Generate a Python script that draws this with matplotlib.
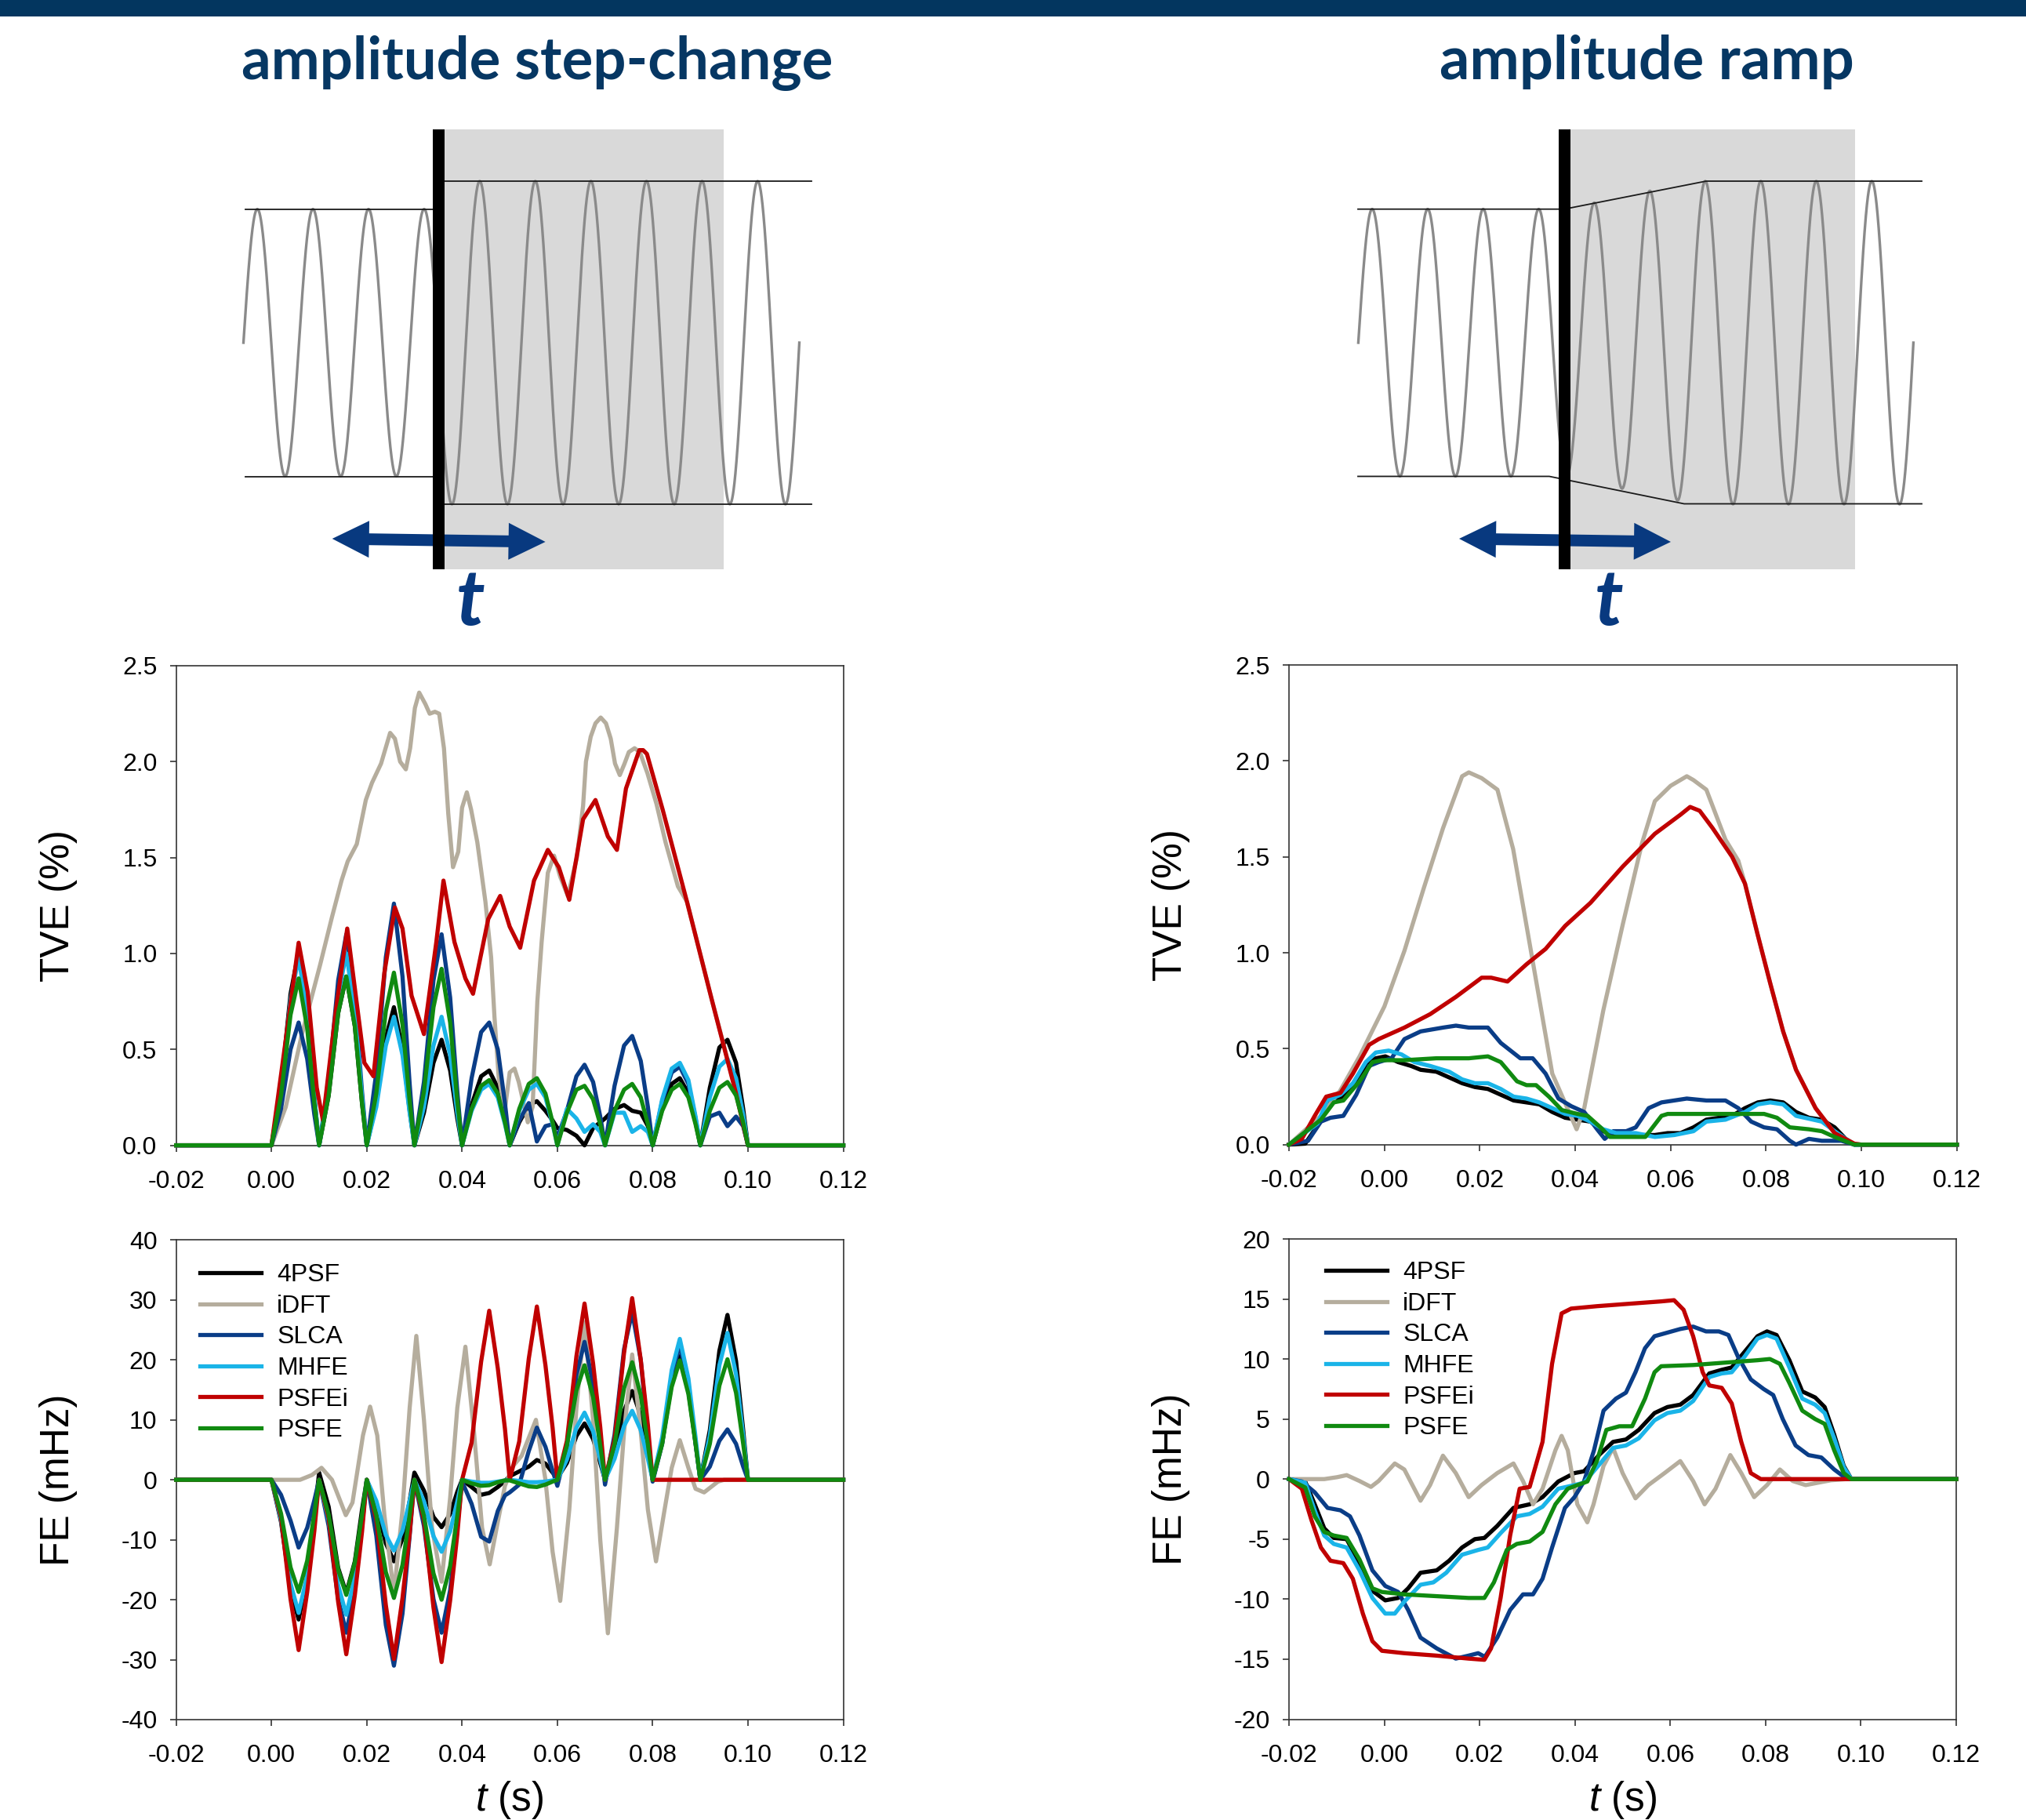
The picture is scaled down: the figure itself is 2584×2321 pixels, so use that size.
import numpy as np
import matplotlib
matplotlib.use("Agg")
import matplotlib.pyplot as plt
from matplotlib.patches import Rectangle, Polygon

W, H = 2584, 2321
DPI = 100

plt.rcParams["font.family"] = ["Liberation Sans", "DejaVu Sans"]
plt.rcParams["mathtext.fontset"] = "custom"
plt.rcParams["mathtext.it"] = "Liberation Sans:italic"
plt.rcParams["mathtext.rm"] = "Liberation Sans"

# ---------------------------------------------------------------- data
SERIES = ["4PSF", "iDFT", "SLCA", "MHFE", "PSFEi", "PSFE"]
COLORS = {
    "4PSF": "#000000",
    "iDFT": "#b5ad9d",
    "SLCA": "#0a3d87",
    "MHFE": "#1ab4e8",
    "PSFEi": "#c00000",
    "PSFE": "#108a10",
}

T_TICKS = [-0.02, 0.0, 0.02, 0.04, 0.06, 0.08, 0.10, 0.12]
TVE_TICKS = [0.0, 0.5, 1.0, 1.5, 2.0, 2.5]
FE_STEP_TICKS = [-40, -30, -20, -10, 0, 10, 20, 30, 40]
FE_RAMP_TICKS = [-20, -15, -10, -5, 0, 5, 10, 15, 20]

# time grid used by the lobe-shaped step-change series (6 samples per 10 ms)
T_GRID = [-0.02,
          0.0, 0.002, 0.004, 0.0057, 0.0075, 0.009,
          0.01, 0.012, 0.014, 0.0157, 0.0175, 0.019,
          0.02, 0.022, 0.024, 0.0257, 0.0275, 0.029,
          0.03, 0.032, 0.034, 0.0357, 0.0375, 0.039,
          0.04, 0.042, 0.044, 0.0457, 0.0475, 0.049,
          0.05, 0.052, 0.054, 0.0557, 0.0575, 0.059,
          0.06, 0.062, 0.064, 0.0657, 0.0675, 0.069,
          0.07, 0.072, 0.074, 0.0757, 0.0775, 0.079,
          0.08, 0.082, 0.084, 0.0857, 0.0875, 0.089,
          0.09, 0.092, 0.094, 0.0957, 0.0975, 0.099,
          0.1, 0.12]

# --- TVE (%), amplitude step-change
tve_step_4psf = [0.0,
                 0.0, 0.30, 0.79, 1.01, 0.71, 0.25,
                 0.0, 0.26, 0.69, 0.88, 0.62, 0.22,
                 0.0, 0.22, 0.56, 0.72, 0.50, 0.18,
                 0.0, 0.17, 0.43, 0.55, 0.39, 0.14,
                 0.0, 0.21, 0.36, 0.39, 0.30, 0.14,
                 0.0, 0.12, 0.21, 0.23, 0.18, 0.13,
                 0.09, 0.08, 0.05, 0.00, 0.09, 0.12,
                 0.14, 0.19, 0.21, 0.18, 0.17, 0.10,
                 0.0, 0.19, 0.32, 0.35, 0.27, 0.12,
                 0.0, 0.30, 0.51, 0.55, 0.43, 0.19,
                 0.0, 0.0]
tve_step_slca = [0.0,
                 0.0, 0.19, 0.50, 0.64, 0.45, 0.16,
                 0.0, 0.33, 0.86, 1.10, 0.77, 0.28,
                 0.0, 0.38, 0.98, 1.26, 0.88, 0.32,
                 0.0, 0.33, 0.86, 1.10, 0.77, 0.28,
                 0.0, 0.35, 0.59, 0.64, 0.50, 0.22,
                 0.0, 0.13, 0.22, 0.02, 0.10, 0.11,
                 0.04, 0.18, 0.36, 0.42, 0.33, 0.15,
                 0.0, 0.31, 0.52, 0.57, 0.44, 0.20,
                 0.0, 0.23, 0.38, 0.41, 0.32, 0.14,
                 0.0, 0.15, 0.17, 0.10, 0.15, 0.10,
                 0.0, 0.0]
tve_step_mhfe = [0.0,
                 0.0, 0.29, 0.76, 0.98, 0.69, 0.25,
                 0.0, 0.30, 0.78, 1.00, 0.70, 0.25,
                 0.0, 0.20, 0.52, 0.67, 0.47, 0.17,
                 0.0, 0.20, 0.52, 0.67, 0.47, 0.17,
                 0.0, 0.18, 0.29, 0.32, 0.25, 0.11,
                 0.0, 0.18, 0.29, 0.32, 0.25, 0.11,
                 0.0, 0.19, 0.14, 0.07, 0.11, 0.07,
                 0.0, 0.17, 0.17, 0.07, 0.10, 0.07,
                 0.0, 0.24, 0.40, 0.43, 0.34, 0.15,
                 0.0, 0.25, 0.41, 0.45, 0.35, 0.16,
                 0.0, 0.0]
tve_step_psfe = [0.0,
                 0.0, 0.26, 0.68, 0.87, 0.61, 0.22,
                 0.0, 0.26, 0.69, 0.88, 0.62, 0.22,
                 0.0, 0.27, 0.70, 0.90, 0.63, 0.23,
                 0.0, 0.28, 0.72, 0.92, 0.64, 0.23,
                 0.0, 0.19, 0.31, 0.34, 0.27, 0.12,
                 0.0, 0.19, 0.32, 0.35, 0.27, 0.12,
                 0.0, 0.17, 0.29, 0.31, 0.24, 0.11,
                 0.0, 0.18, 0.29, 0.32, 0.25, 0.11,
                 0.0, 0.18, 0.29, 0.32, 0.25, 0.11,
                 0.0, 0.18, 0.30, 0.33, 0.26, 0.12,
                 0.0, 0.0]
tve_step_idft_t = [-0.02, 0.0, 0.003, 0.0063, 0.0102, 0.0127, 0.0147, 0.016, 0.0179, 0.0198,
                   0.0211, 0.023, 0.0249, 0.0259, 0.027, 0.0282, 0.0291, 0.0301, 0.031, 0.0323,
                   0.0332, 0.0343, 0.0352, 0.0362, 0.0371, 0.0381, 0.0392, 0.04, 0.041, 0.0419,
                   0.0432, 0.0449, 0.0461, 0.0468, 0.0477, 0.049, 0.05, 0.051, 0.0519, 0.0529,
                   0.0538, 0.0548, 0.0558, 0.0567, 0.058, 0.0593, 0.0606, 0.0622, 0.0641, 0.0654,
                   0.066, 0.067, 0.068, 0.0691, 0.0702, 0.0712, 0.0721, 0.0731, 0.0741, 0.075,
                   0.0762, 0.0773, 0.0789, 0.0808, 0.0827, 0.0853, 0.0872, 0.0924, 0.0975, 0.1,
                   0.12]
tve_step_idft = [0.0, 0.0, 0.2, 0.57, 0.94, 1.19, 1.38, 1.48, 1.57, 1.8,
                 1.89, 1.99, 2.15, 2.12, 2.0, 1.96, 2.07, 2.28, 2.36, 2.3,
                 2.25, 2.26, 2.25, 2.07, 1.73, 1.45, 1.53, 1.76, 1.84, 1.75,
                 1.58, 1.27, 0.98, 0.67, 0.35, 0.19, 0.38, 0.4, 0.33, 0.22,
                 0.12, 0.2, 0.75, 1.06, 1.42, 1.51, 1.4, 1.3, 1.5, 1.77,
                 2.0, 2.13, 2.2, 2.23, 2.2, 2.12, 1.99, 1.93, 1.99, 2.05,
                 2.07, 2.05, 1.94, 1.78, 1.58, 1.35, 1.27, 0.76, 0.28, 0.0,
                 0.0]
tve_step_psfei_t = [-0.02, 0.0, 0.003, 0.0057, 0.0076, 0.0095, 0.0108, 0.0135, 0.0159, 0.0179,
                    0.0195, 0.0214, 0.0237, 0.0259, 0.0275, 0.0294, 0.032, 0.0346, 0.0361, 0.0384,
                    0.0407, 0.0423, 0.0455, 0.048, 0.05, 0.0522, 0.0551, 0.058, 0.0603, 0.0625,
                    0.0654, 0.068, 0.0706, 0.0725, 0.0744, 0.0772, 0.078, 0.0788, 0.0821, 0.0872,
                    0.0924, 0.0975, 0.1, 0.12]
tve_step_psfei = [0.0, 0.0, 0.55, 1.056, 0.8, 0.3, 0.13, 0.7, 1.13, 0.74,
                  0.43, 0.36, 0.9, 1.24, 1.13, 0.78, 0.58, 1.06, 1.38, 1.06,
                  0.87, 0.79, 1.18, 1.3, 1.14, 1.03, 1.38, 1.54, 1.45, 1.28,
                  1.7, 1.8, 1.61, 1.54, 1.86, 2.06, 2.06, 2.04, 1.75, 1.27,
                  0.76, 0.27, 0.0, 0.0]

# --- FE (mHz), amplitude step-change
fe_step_4psf = [0.0,
                0.0, -7.0, -18.2, -23.3, -16.3, -6.0,
                1.2, -4.5, -14.7, -18.9, -13.6, -5.0,
                0.0, -4.1, -10.6, -13.6, -9.8, -3.5,
                1.2, -1.8, -6.2, -7.9, -5.7, -2.0,
                0.0, -1.2, -2.5, -2.2, -1.2, -0.2,
                0.6, 1.4, 2.2, 3.3, 2.7, 1.2,
                0.3, 2.8, 7.3, 9.4, 6.8, 2.8,
                0.0, 4.4, 11.5, 14.8, 10.7, 4.4,
                0.0, 6.2, 16.1, 20.6, 14.8, 6.2,
                0.0, 8.3, 21.5, 27.5, 19.8, 8.3,
                0.0, 0.0]
fe_step_slca = [0.0,
                0.0, -2.5, -6.8, -11.3, -8.0, -3.4,
                0.0, -7.7, -19.9, -25.5, -18.4, -7.7,
                0.0, -9.3, -24.2, -31.0, -22.3, -9.3,
                0.0, -7.7, -19.9, -25.5, -18.4, -7.7,
                -0.3, -4.0, -9.5, -10.3, -5.2, -2.6,
                -2.1, -0.8, 4.8, 8.7, 5.5, 1.5,
                -1.0, 5.5, 17.5, 23.0, 16.0, 6.0,
                -0.8, 7.5, 21.8, 28.0, 20.0, 7.5,
                -0.3, 6.0, 17.5, 22.5, 16.0, 6.0,
                0.0, 2.2, 6.5, 8.4, 6.0, 2.2,
                0.0, 0.0]
fe_step_mhfe = [0.0,
                0.0, -6.7, -17.3, -22.2, -16.0, -6.7,
                0.0, -6.8, -17.6, -22.5, -16.2, -6.8,
                0.0, -3.5, -9.2, -11.8, -8.5, -3.5,
                0.0, -3.6, -9.4, -12.0, -8.6, -3.6,
                0.0, -0.3, -0.5, -0.5, -0.3, -0.1,
                0.0, -0.2, -0.4, -0.4, -0.3, -0.1,
                0.0, 3.4, 8.7, 11.2, 8.1, 3.4,
                0.0, 3.5, 9.0, 11.5, 8.3, 3.5,
                0.0, 7.1, 18.3, 23.5, 16.9, 7.1,
                0.0, 7.4, 19.1, 24.5, 17.6, 7.4,
                0.0, 0.0]
fe_step_psfei = [0.0,
                 0.0, -6.2, -19.9, -28.4, -18.7, -8.5,
                 0.0, -6.4, -20.4, -29.1, -19.2, -8.7,
                 0.0, -6.6, -20.9, -29.9, -19.7, -9.0,
                 0.0, -6.7, -21.3, -30.4, -20.1, -9.1,
                 0.0, 6.2, 19.7, 28.2, 18.6, 8.5,
                 0.0, 6.4, 20.2, 28.9, 19.1, 8.7,
                 0.0, 6.5, 20.6, 29.4, 19.4, 8.8,
                 0.0, 6.7, 21.2, 30.3, 20.0, 9.1,
                 0.0, 0.0, 0.0, 0.0, 0.0, 0.0,
                 0.0, 0.0, 0.0, 0.0, 0.0, 0.0,
                 0.0, 0.0]
fe_step_psfe = [0.0,
                0.0, -5.6, -14.6, -18.7, -13.5, -5.6,
                0.0, -5.8, -15.0, -19.2, -13.8, -5.8,
                0.0, -5.9, -15.4, -19.7, -14.2, -5.9,
                0.0, -6.0, -15.6, -20.0, -14.4, -6.0,
                0.0, -0.6, -1.0, -0.9, -0.4, -0.1,
                -0.1, -0.6, -1.1, -1.2, -0.8, -0.3,
                0.0, 5.7, 14.9, 19.1, 13.8, 5.7,
                0.0, 5.9, 15.3, 19.6, 14.1, 5.9,
                0.0, 6.0, 15.5, 19.9, 14.3, 6.0,
                0.0, 6.0, 15.7, 20.1, 14.5, 6.0,
                0.0, 0.0]
fe_step_idft_t = [-0.02, 0.0, 0.006, 0.0085, 0.0105, 0.0127, 0.0156, 0.017, 0.0192, 0.0207,
                  0.0222, 0.0237, 0.0257, 0.0275, 0.029, 0.0304, 0.032, 0.0337, 0.0357, 0.0375,
                  0.039, 0.0407, 0.0425, 0.0442, 0.0458, 0.0475, 0.049, 0.0507, 0.0525, 0.0555,
                  0.0575, 0.059, 0.0606, 0.0625, 0.064, 0.0657, 0.0675, 0.069, 0.0706, 0.0725,
                  0.074, 0.0757, 0.0775, 0.079, 0.0807, 0.0825, 0.084, 0.0857, 0.0875, 0.089,
                  0.0908, 0.0937, 0.095, 0.12]
fe_step_idft = [0.0, 0.0, 0.0, 0.8, 2.0, 0.0, -5.9, -3.8, 7.4, 12.2,
                7.4, -5.9, -19.0, -5.0, 12.0, 24.0, 10.0, -8.0, -17.0, -3.0,
                12.0, 22.2, 8.0, -8.0, -14.1, -7.0, -1.0, 2.3, 4.0, 10.0,
                0.0, -12.0, -20.2, -5.0, 12.0, 26.3, 10.0, -10.0, -25.6, -8.0,
                8.0, 20.9, 8.0, -5.0, -13.6, -5.0, 2.0, 6.6, 2.0, -1.5,
                -2.1, -0.3, 0.0, 0.0]

# --- TVE (%), amplitude ramp  (t, value)
tve_ramp_4psf = [(-0.02, 0.0), (-0.0166, 0.005), (-0.014, 0.1), (-0.012, 0.21), (-0.0092, 0.24),
                 (-0.0066, 0.3), (-0.0039, 0.41), (-0.0018, 0.45), (0.0002, 0.46), (0.0029, 0.43),
                 (0.0056, 0.41), (0.0076, 0.39), (0.0109, 0.38), (0.0136, 0.35), (0.0163, 0.32),
                 (0.019, 0.3), (0.0217, 0.29), (0.0244, 0.26), (0.0271, 0.23), (0.0298, 0.22),
                 (0.0325, 0.21), (0.0352, 0.17), (0.0379, 0.14), (0.0405, 0.13), (0.0432, 0.12),
                 (0.0459, 0.07), (0.0486, 0.05), (0.0527, 0.05), (0.0567, 0.05), (0.0594, 0.06),
                 (0.0621, 0.06), (0.0648, 0.09), (0.0675, 0.13), (0.0702, 0.14), (0.0729, 0.15),
                 (0.0756, 0.19), (0.0783, 0.22), (0.0809, 0.23), (0.0836, 0.22), (0.0863, 0.17),
                 (0.089, 0.14), (0.0917, 0.13), (0.0944, 0.09), (0.0971, 0.02), (0.0985, 0.0),
                 (0.12, 0.0)]
tve_ramp_idft = [(-0.02, 0.0), (-0.0133, 0.15), (-0.0093, 0.28), (-0.0052, 0.46), (0.0, 0.72),
                 (0.0042, 1.01), (0.0083, 1.34), (0.0123, 1.65), (0.0163, 1.92), (0.0177, 1.94),
                 (0.0204, 1.91), (0.0237, 1.85), (0.027, 1.54), (0.031, 0.97), (0.0352, 0.37),
                 (0.0403, 0.08), (0.0419, 0.19), (0.0459, 0.7), (0.05, 1.15), (0.054, 1.57),
                 (0.0567, 1.79), (0.06, 1.87), (0.0634, 1.92), (0.0648, 1.9), (0.0675, 1.85),
                 (0.0715, 1.59), (0.0742, 1.48), (0.0756, 1.36), (0.0782, 1.1), (0.0809, 0.84),
                 (0.0836, 0.59), (0.0863, 0.39), (0.0904, 0.19), (0.0944, 0.06), (0.0985, 0.005),
                 (0.1, 0.0), (0.12, 0.0)]
tve_ramp_slca = [(-0.02, 0.0), (-0.016, 0.02), (-0.0133, 0.12), (-0.0113, 0.14), (-0.0086, 0.15),
                 (-0.0059, 0.26), (-0.0032, 0.41), (-0.0012, 0.43), (0.0015, 0.45), (0.0042, 0.55),
                 (0.0076, 0.59), (0.0123, 0.61), (0.015, 0.62), (0.0177, 0.61), (0.0217, 0.61),
                 (0.0244, 0.53), (0.0285, 0.45), (0.0311, 0.45), (0.0338, 0.37), (0.0365, 0.24),
                 (0.0392, 0.2), (0.0419, 0.17), (0.0446, 0.08), (0.0462, 0.03), (0.048, 0.07),
                 (0.0507, 0.07), (0.0527, 0.09), (0.0554, 0.19), (0.0581, 0.22), (0.0634, 0.24),
                 (0.0675, 0.23), (0.0715, 0.23), (0.0742, 0.19), (0.0769, 0.12), (0.0796, 0.09),
                 (0.0823, 0.08), (0.085, 0.02), (0.0863, 0.0), (0.089, 0.03), (0.0917, 0.02),
                 (0.0958, 0.02), (0.0985, 0.0), (0.12, 0.0)]
tve_ramp_mhfe = [(-0.02, 0.0), (-0.014, 0.11), (-0.012, 0.23), (-0.0092, 0.26), (-0.0066, 0.32),
                 (-0.0039, 0.43), (-0.0018, 0.48), (0.0009, 0.49), (0.0036, 0.47), (0.0063, 0.43),
                 (0.0096, 0.41), (0.0136, 0.38), (0.0163, 0.34), (0.019, 0.32), (0.0217, 0.32),
                 (0.0244, 0.29), (0.0271, 0.25), (0.0298, 0.24), (0.0325, 0.22), (0.0352, 0.19),
                 (0.0379, 0.16), (0.0405, 0.15), (0.0432, 0.12), (0.0459, 0.08), (0.0486, 0.06),
                 (0.0527, 0.06), (0.0567, 0.04), (0.0608, 0.05), (0.0648, 0.07), (0.0675, 0.12),
                 (0.0715, 0.13), (0.0756, 0.17), (0.0783, 0.21), (0.0809, 0.22), (0.0836, 0.21),
                 (0.0863, 0.15), (0.0917, 0.12), (0.0944, 0.07), (0.0985, 0.0), (0.12, 0.0)]
tve_ramp_psfei = [(-0.02, 0.0), (-0.0173, 0.03), (-0.0146, 0.15), (-0.0122, 0.25), (-0.0092, 0.27),
                  (-0.0066, 0.37), (-0.0032, 0.52), (-0.0012, 0.55), (0.0042, 0.61), (0.0096, 0.68),
                  (0.015, 0.77), (0.0204, 0.87), (0.0224, 0.87), (0.0258, 0.85), (0.0298, 0.94),
                  (0.0338, 1.02), (0.0379, 1.14), (0.0432, 1.26), (0.05, 1.45), (0.0567, 1.62),
                  (0.0621, 1.72), (0.0641, 1.76), (0.0661, 1.74), (0.0688, 1.65), (0.0729, 1.5),
                  (0.0756, 1.36), (0.0782, 1.1), (0.0809, 0.84), (0.0836, 0.59), (0.0863, 0.39),
                  (0.0904, 0.19), (0.0944, 0.06), (0.0985, 0.005), (0.1, 0.0), (0.12, 0.0)]
tve_ramp_psfe = [(-0.02, 0.0), (-0.0133, 0.13), (-0.0106, 0.22), (-0.0086, 0.23), (-0.0052, 0.33),
                 (-0.0025, 0.43), (-0.0005, 0.44), (0.0042, 0.44), (0.0109, 0.45), (0.0177, 0.45),
                 (0.0217, 0.46), (0.0244, 0.43), (0.0278, 0.33), (0.0298, 0.31), (0.0318, 0.31),
                 (0.0345, 0.25), (0.0372, 0.18), (0.0405, 0.16), (0.0426, 0.15), (0.0453, 0.09),
                 (0.0473, 0.04), (0.0513, 0.04), (0.0547, 0.04), (0.0581, 0.15), (0.0594, 0.16),
                 (0.0648, 0.16), (0.0715, 0.16), (0.0796, 0.16), (0.0823, 0.14), (0.085, 0.09),
                 (0.089, 0.08), (0.0917, 0.07), (0.0944, 0.04), (0.0985, 0.0), (0.12, 0.0)]

# --- FE (mHz), amplitude ramp  (t, value)
fe_ramp_4psf = [(-0.02, 0.0), (-0.0166, -0.2), (-0.0146, -2.1), (-0.0126, -4.1), (-0.0106, -4.9),
                (-0.0079, -5.0), (-0.0052, -7.0), (-0.0025, -9.3), (0.0002, -10.1), (0.0029, -9.9),
                (0.005, -9.1), (0.0076, -7.8), (0.011, -7.6), (0.0136, -6.8), (0.0163, -5.7),
                (0.019, -5.0), (0.021, -4.9), (0.0237, -3.9), (0.0271, -2.4), (0.0305, -2.1),
                (0.0332, -1.5), (0.0365, -0.2), (0.0399, 0.5), (0.0419, 0.65), (0.0453, 2.1),
                (0.048, 3.1), (0.0507, 3.3), (0.0534, 4.1), (0.0567, 5.5), (0.0594, 6.0),
                (0.0621, 6.2), (0.0648, 7.0), (0.0682, 8.8), (0.0708, 9.1), (0.0729, 9.3),
                (0.0756, 10.6), (0.0783, 11.9), (0.0803, 12.3), (0.0823, 12.0), (0.085, 9.9),
                (0.0877, 7.3), (0.0904, 6.8), (0.0924, 6.0), (0.0944, 3.7), (0.0964, 1.1),
                (0.098, 0.0), (0.12, 0.0)]
fe_ramp_idft = [(-0.02, 0.0), (-0.0126, 0.0), (-0.0099, 0.16), (-0.0079, 0.33), (-0.0052, -0.16),
                (-0.0028, -0.65), (-0.0012, -0.16), (0.0022, 1.3), (0.0042, 0.8), (0.0076, -1.8),
                (0.0096, -0.5), (0.0123, 1.95), (0.015, 0.5), (0.0177, -1.5), (0.0204, -0.5),
                (0.0237, 0.5), (0.0271, 1.3), (0.0291, -0.16), (0.0312, -2.1), (0.0332, -0.8),
                (0.0359, 2.4), (0.0372, 3.6), (0.0385, 2.4), (0.0405, -2.1), (0.0426, -3.6),
                (0.0439, -2.1), (0.046, 1.1), (0.048, 2.6), (0.05, 0.5), (0.0527, -1.6),
                (0.0554, -0.5), (0.0588, 0.5), (0.0621, 1.5), (0.0648, -0.16), (0.0672, -2.1),
                (0.0695, -0.8), (0.0726, 2.0), (0.0749, 0.5), (0.0776, -1.5), (0.0803, -0.5),
                (0.083, 0.8), (0.0857, -0.16), (0.0884, -0.5), (0.091, -0.3), (0.0937, -0.1),
                (0.0971, 0.0), (0.12, 0.0)]
fe_ramp_slca = [(-0.02, 0.0), (-0.0173, -0.2), (-0.0146, -1.1), (-0.0119, -2.4), (-0.0092, -2.6),
                (-0.0072, -3.1), (-0.0052, -4.7), (-0.0025, -7.6), (0.0002, -8.9), (0.0029, -9.4),
                (0.005, -10.9), (0.0076, -13.2), (0.011, -14.1), (0.015, -14.95), (0.0177, -14.7),
                (0.0197, -14.5), (0.0211, -14.8), (0.0237, -13.2), (0.0264, -10.9), (0.0291, -9.6),
                (0.0312, -9.6), (0.0332, -8.3), (0.0352, -5.7), (0.0379, -2.4), (0.0399, -1.5),
                (0.0419, -0.2), (0.044, 2.4), (0.046, 5.7), (0.0486, 6.7), (0.0507, 7.2),
                (0.0527, 8.9), (0.0547, 10.9), (0.0567, 11.9), (0.0594, 12.2), (0.0621, 12.5),
                (0.0648, 12.7), (0.0675, 12.3), (0.0702, 12.3), (0.0722, 12.0), (0.0742, 10.2),
                (0.0769, 8.3), (0.0796, 7.5), (0.0816, 7.0), (0.0836, 5.0), (0.0863, 2.8),
                (0.089, 2.0), (0.0917, 1.8), (0.0944, 0.8), (0.0971, 0.0), (0.12, 0.0)]
fe_ramp_mhfe = [(-0.02, 0.0), (-0.0166, -0.3), (-0.0146, -2.6), (-0.0126, -4.7), (-0.0106, -5.4),
                (-0.0079, -5.7), (-0.0052, -7.6), (-0.0025, -9.9), (0.0002, -11.2), (0.0022, -11.2),
                (0.0042, -10.2), (0.0076, -8.8), (0.0103, -8.6), (0.013, -7.8), (0.0163, -6.3),
                (0.0197, -5.9), (0.0217, -5.7), (0.0244, -4.5), (0.0278, -3.1), (0.0305, -2.9),
                (0.0332, -2.3), (0.0365, -0.8), (0.0399, -0.5), (0.0419, -0.3), (0.0453, 1.3),
                (0.048, 2.6), (0.0507, 2.8), (0.0534, 3.4), (0.0567, 4.9), (0.0594, 5.5),
                (0.0621, 5.7), (0.0648, 6.5), (0.0682, 8.5), (0.0708, 8.8), (0.0729, 8.9),
                (0.0756, 10.2), (0.0783, 11.7), (0.0803, 12.0), (0.0823, 11.7), (0.085, 9.3),
                (0.0877, 6.7), (0.0904, 6.2), (0.0924, 5.5), (0.0944, 3.4), (0.0964, 1.0),
                (0.098, 0.0), (0.12, 0.0)]
fe_ramp_psfei = [(-0.02, 0.0), (-0.0173, -0.8), (-0.0153, -3.4), (-0.0133, -5.7), (-0.0113, -6.8),
                 (-0.0086, -7.0), (-0.0066, -8.3), (-0.0045, -11.2), (-0.0025, -13.5), (-0.0005, -14.3),
                 (0.0042, -14.5), (0.0109, -14.7), (0.0177, -14.95), (0.021, -15.05), (0.0224, -14.1),
                 (0.0244, -9.9), (0.0264, -4.7), (0.0284, -0.8), (0.0305, -0.65), (0.0332, 3.1),
                 (0.0352, 9.6), (0.0372, 13.8), (0.0392, 14.2), (0.0446, 14.4), (0.0513, 14.6),
                 (0.0581, 14.8), (0.0608, 14.9), (0.0628, 14.1), (0.0648, 11.9), (0.0668, 8.9),
                 (0.0682, 7.8), (0.0708, 7.6), (0.0729, 6.3), (0.0749, 3.1), (0.0769, 0.5),
                 (0.079, 0.0), (0.12, 0.0)]
fe_ramp_psfe = [(-0.02, 0.0), (-0.0166, -0.7), (-0.0146, -3.1), (-0.0126, -4.4), (-0.0106, -4.7),
                (-0.0079, -4.9), (-0.0052, -6.7), (-0.0025, -9.1), (-0.0005, -9.4), (0.0042, -9.6),
                (0.0109, -9.75), (0.0177, -9.9), (0.021, -9.9), (0.023, -8.6), (0.0257, -5.9),
                (0.0278, -5.4), (0.0305, -5.2), (0.0332, -4.4), (0.0359, -2.1), (0.0385, -0.8),
                (0.0405, -0.5), (0.0426, -0.2), (0.0446, 1.5), (0.0466, 4.1), (0.0493, 4.4),
                (0.052, 4.4), (0.0547, 6.7), (0.0567, 8.9), (0.0581, 9.4), (0.0648, 9.5),
                (0.0715, 9.7), (0.0783, 9.9), (0.0809, 10.0), (0.083, 9.6), (0.085, 8.0),
                (0.0877, 5.7), (0.0904, 5.0), (0.0924, 4.6), (0.0944, 2.4), (0.0964, 0.5),
                (0.098, 0.0), (0.12, 0.0)]

# --- schematic signal (drawn in pixel space of the figure)
WAVE_CYCLES = 10
AMP_RATIO = 206.0 / 170.4   # amplitude after / before the change


def unzip(pairs):
    return [p[0] for p in pairs], [p[1] for p in pairs]


PANELS = {
    "tve_step": {
        "4PSF": (T_GRID, tve_step_4psf),
        "iDFT": (tve_step_idft_t, tve_step_idft),
        "SLCA": (T_GRID, tve_step_slca),
        "MHFE": (T_GRID, tve_step_mhfe),
        "PSFEi": (tve_step_psfei_t, tve_step_psfei),
        "PSFE": (T_GRID, tve_step_psfe),
    },
    "fe_step": {
        "4PSF": (T_GRID, fe_step_4psf),
        "iDFT": (fe_step_idft_t, fe_step_idft),
        "SLCA": (T_GRID, fe_step_slca),
        "MHFE": (T_GRID, fe_step_mhfe),
        "PSFEi": (T_GRID, fe_step_psfei),
        "PSFE": (T_GRID, fe_step_psfe),
    },
    "tve_ramp": {
        "4PSF": unzip(tve_ramp_4psf),
        "iDFT": unzip(tve_ramp_idft),
        "SLCA": unzip(tve_ramp_slca),
        "MHFE": unzip(tve_ramp_mhfe),
        "PSFEi": unzip(tve_ramp_psfei),
        "PSFE": unzip(tve_ramp_psfe),
    },
    "fe_ramp": {
        "4PSF": unzip(fe_ramp_4psf),
        "iDFT": unzip(fe_ramp_idft),
        "SLCA": unzip(fe_ramp_slca),
        "MHFE": unzip(fe_ramp_mhfe),
        "PSFEi": unzip(fe_ramp_psfei),
        "PSFE": unzip(fe_ramp_psfe),
    },
}

# ---------------------------------------------------------------- style
NAVY = "#063763"
ARROW_BLUE = "#08397f"
SPINE = "#333333"
LW = 3.8
TICK_FS = 23
LABEL_FS = 37


def px_rect(left, top, right, bottom):
    return [left / W, 1 - bottom / H, (right - left) / W, (bottom - top) / H]


def fx(x):
    return x / W


def fy(y):
    return 1 - y / H


def double_arrow(ax, x0, y0, x1, y1, head_len=47, head_half=23.5, shaft_half=7.5, color=ARROW_BLUE):
    p0 = np.array([x0, y0])
    p1 = np.array([x1, y1])
    u = (p1 - p0) / np.hypot(*(p1 - p0))
    n = np.array([-u[1], u[0]])
    bl = p0 + u * head_len
    br = p1 - u * head_len
    pts = [p0, bl + n * head_half, bl + n * shaft_half, br + n * shaft_half, br + n * head_half,
           p1, br - n * head_half, br - n * shaft_half, bl - n * shaft_half, bl - n * head_half]
    ax.add_patch(Polygon(pts, closed=True, facecolor=color, edgecolor="none", zorder=4))


def draw_schematic(ax, x0, period, yc, amp, bar_x, shade_right, ramp_end, env_upper, env_lower,
                   arrow, t_pos):
    top, bottom = 165, 726
    ax.add_patch(Rectangle((bar_x, top), shade_right - bar_x, bottom - top,
                           facecolor="#d9d9d9", edgecolor="none", zorder=1))
    x = np.linspace(x0, x0 + WAVE_CYCLES * period, 4000)
    if ramp_end is None:
        a = np.where(x < bar_x, amp, amp * AMP_RATIO)
    else:
        a = np.interp(x, [bar_x, ramp_end], [amp, amp * AMP_RATIO])
    y = yc - a * np.sin(2 * np.pi * (x - x0) / period)
    if ramp_end is None:
        left = x < bar_x
        ax.plot(x[left], y[left], color="#8a8a8a", lw=2.4, zorder=2)
        ax.plot(x[~left], y[~left], color="#8a8a8a", lw=2.4, zorder=2)
    else:
        ax.plot(x, y, color="#8a8a8a", lw=2.4, zorder=2)
    for seg in env_upper + env_lower:
        xs, ys = zip(*seg)
        ax.plot(xs, ys, color="#1a1a1a", lw=1.3, zorder=3)
    double_arrow(ax, *arrow)
    ax.add_patch(Rectangle((bar_x - 7.5, top), 15, bottom - top, facecolor="black",
                           edgecolor="none", zorder=5))
    ax.text(t_pos[0], t_pos[1], "t", ha="center", va="baseline", fontsize=72,
            family=["Lato", "DejaVu Sans"], weight="bold", style="italic", color=ARROW_BLUE, zorder=6)


def setup_axes(ax, yticks, yfmt):
    ax.set_xlim(-0.02, 0.12)
    ax.set_ylim(yticks[0], yticks[-1])
    ax.set_xticks(T_TICKS)
    ax.set_xticklabels([f"{v:.2f}" for v in T_TICKS])
    ax.set_yticks(yticks)
    ax.set_yticklabels([yfmt(v) for v in yticks])
    for s in ax.spines.values():
        s.set_linewidth(1.2)
        s.set_color(SPINE)
    ax.tick_params(direction="out", length=5.5, width=1.2, color=SPINE, labelsize=TICK_FS,
                   top=False, right=False)
    ax.tick_params(axis="x", pad=17)
    ax.tick_params(axis="y", pad=12)


def plot_panel(ax, panel):
    for name in SERIES:
        t, v = panel[name]
        ax.plot(t, v, color=COLORS[name], lw=LW, label=name, clip_on=False, zorder=3,
                solid_joinstyle="round")


fig = plt.figure(figsize=(W / DPI, H / DPI), dpi=DPI)

deco = fig.add_axes([0, 0, 1, 1])
deco.set_xlim(0, W)
deco.set_ylim(H, 0)
deco.axis("off")
deco.add_patch(Rectangle((0, 0), W, 21, facecolor="#03365f", edgecolor="none"))

# step-change schematic
draw_schematic(deco, x0=310.5, period=70.9, yc=437, amp=170.4, bar_x=559.4, shade_right=922.7,
               ramp_end=None,
               env_upper=[[(313, 267), (552, 267)], [(567, 231), (1035, 231)]],
               env_lower=[[(313, 607.5), (552, 607.5)], [(567, 642.5), (1035, 642.5)]],
               arrow=(423.7, 687, 695.6, 691), t_pos=(600, 797))
# ramp schematic
draw_schematic(deco, x0=1732.4, period=70.8, yc=437, amp=170.4, bar_x=1995.3, shade_right=2366,
               ramp_end=2162,
               env_upper=[[(1732, 266.7), (1995, 266.7), (2176, 231), (2451, 231)]],
               env_lower=[[(1732, 607.5), (1976, 607.5), (2148, 642.5), (2451, 642.5)]],
               arrow=(1861, 687, 2131, 691), t_pos=(2052, 797))

# titles, fitted to the measured width
renderer = fig.canvas.get_renderer()
for text, cx, width in [("amplitude step-change", 685, 755), ("amplitude ramp", 2100, 529)]:
    tt = fig.text(fx(cx), fy(101.5), text, ha="center", va="baseline", fontsize=60,
                  family=["Lato", "DejaVu Sans"], weight="bold", color=NAVY)
    bb = tt.get_window_extent(renderer)
    tt.set_fontsize(60 * width / bb.width)

ax_tve_l = fig.add_axes(px_rect(224.7, 849, 1075.5, 1460.6))
ax_tve_r = fig.add_axes(px_rect(1644, 848, 2495.7, 1459.7))
ax_fe_l = fig.add_axes(px_rect(224.7, 1581.3, 1075.5, 2193))
ax_fe_r = fig.add_axes(px_rect(1644, 1580, 2495, 2192.5))

plot_panel(ax_tve_l, PANELS["tve_step"])
plot_panel(ax_tve_r, PANELS["tve_ramp"])
plot_panel(ax_fe_l, PANELS["fe_step"])
plot_panel(ax_fe_r, PANELS["fe_ramp"])

setup_axes(ax_tve_l, TVE_TICKS, lambda v: f"{v:.1f}")
setup_axes(ax_tve_r, TVE_TICKS, lambda v: f"{v:.1f}")
setup_axes(ax_fe_l, FE_STEP_TICKS, lambda v: f"{v:d}")
setup_axes(ax_fe_r, FE_RAMP_TICKS, lambda v: f"{v:d}")

for ax, anchor in [(ax_fe_l, (0.0356, 0.951)), (ax_fe_r, (0.0552, 0.954))]:
    ax.legend(loc="upper left", bbox_to_anchor=anchor, frameon=False, fontsize=TICK_FS,
              handlelength=2.45, handletextpad=0.62, labelspacing=0.3, borderpad=0,
              borderaxespad=0)

# axis labels
for ax, text in [(ax_tve_l, "TVE (%)"), (ax_tve_r, "TVE (%)"), (ax_fe_l, "FE (mHz)"),
                 (ax_fe_r, "FE (mHz)")]:
    pos = ax.get_position()
    fig.text(pos.x0 - 150 / W, pos.y0 + pos.height / 2, text, rotation=90, ha="center",
             va="center", fontsize=LABEL_FS)
for ax in (ax_fe_l, ax_fe_r):
    pos = ax.get_position()
    fig.text(pos.x0 + pos.width / 2, fy(2309), r"$t$ (s)", ha="center", va="baseline",
             fontsize=LABEL_FS)

fig.savefig("out.png", dpi=DPI)
